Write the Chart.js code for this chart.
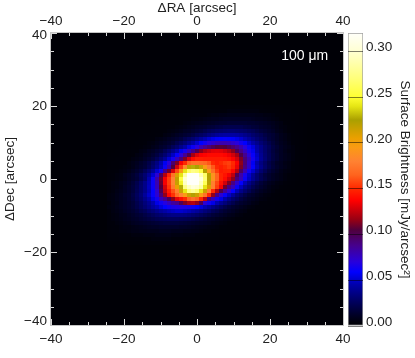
<!DOCTYPE html>
<html>
<head>
<meta charset="utf-8">
<style>
  html, body { margin: 0; background: #fff; }
  canvas { position: absolute; left: 0; top: 0; }
</style>
<script src="https://cdn.jsdelivr.net/npm/chart.js@4"></script>
</head>
<body>
<canvas id="map" width="415" height="358"></canvas>
<canvas id="bar" width="415" height="358"></canvas>
<script>
// Surface brightness, in 10^-3 mJy/arcsec^2.
// Only the patch around the source; everything else is background.
const firstCol = 14;
const firstRow = 18;
const gridCells = 73;
const brightness = [
  [0,0,0,0,0,0,0,0,0,0,0,0,0,0,0,0,0,0,1,1,1,1,1,1,1,1,1,2,2,2,2,2,3,3,3,3,3,3,3,2,2,2,2,2,1,1,1,1,1,0],
  [0,0,0,0,0,0,0,0,0,0,0,0,1,1,1,1,1,1,1,1,2,2,2,2,3,3,3,3,4,4,5,5,5,5,5,5,5,5,4,4,3,3,3,2,2,2,1,1,1,1],
  [1,1,1,1,1,1,1,1,1,1,1,1,1,1,2,2,2,2,3,3,3,3,4,4,4,5,6,6,7,7,8,8,8,8,8,8,8,7,7,6,6,5,4,4,3,3,2,2,1,1],
  [1,1,1,1,1,1,1,1,1,1,1,1,2,2,2,2,3,3,3,4,4,5,5,6,7,8,9,9,10,11,11,11,11,11,11,11,10,9,9,8,7,6,5,4,3,3,2,2,1,1],
  [1,1,1,1,1,1,1,1,1,1,1,2,2,2,3,3,3,3,4,5,6,7,8,9,10,11,12,13,14,14,15,15,15,15,15,14,14,13,12,11,10,9,7,6,4,3,3,2,1,1],
  [1,1,1,1,1,1,1,1,1,2,2,2,3,3,3,4,4,5,6,7,9,10,12,13,14,16,17,19,20,22,22,22,22,22,20,19,17,16,14,13,12,10,8,6,5,4,3,2,2,1],
  [1,1,1,1,1,1,1,1,2,2,2,3,3,3,4,5,6,7,9,11,12,14,16,18,21,24,26,28,29,30,31,31,30,29,28,26,24,21,18,16,14,12,9,7,5,4,3,2,2,1],
  [1,1,1,1,1,1,1,2,2,3,3,3,4,4,6,7,9,11,13,15,17,20,24,27,30,34,37,40,42,43,43,43,42,40,37,34,30,27,24,20,17,15,12,9,7,5,4,3,2,1],
  [1,1,1,1,1,2,2,2,3,3,4,4,6,7,9,11,13,15,18,23,27,31,36,41,46,51,55,58,59,60,59,58,55,51,46,41,36,31,27,23,18,15,12,9,7,5,4,3,2,1],
  [1,1,1,1,2,2,2,3,3,4,5,6,8,10,12,14,17,22,27,32,38,44,51,59,64,70,74,78,80,80,78,74,70,64,59,51,44,38,32,27,22,17,13,10,8,6,4,3,2,1],
  [1,1,1,2,2,2,3,3,4,5,6,8,10,13,15,19,25,30,37,44,53,62,70,80,88,94,100,105,106,105,100,94,88,80,70,62,53,44,37,30,25,19,15,11,9,7,5,3,2,2],
  [1,1,2,2,3,3,4,4,6,7,10,12,15,18,24,30,37,45,56,65,77,89,100,114,122,127,131,132,131,127,122,114,100,89,77,65,56,45,37,30,24,18,14,11,8,6,5,3,2,1],
  [1,2,2,3,3,3,4,6,7,10,12,15,19,25,31,39,49,61,72,87,102,119,130,136,138,140,140,140,140,138,134,128,119,102,87,72,61,49,39,31,25,19,15,11,9,7,5,3,2,2],
  [2,2,3,3,3,4,6,7,9,12,15,19,25,32,40,51,64,78,92,112,128,140,146,146,145,145,145,145,145,144,142,136,128,112,92,78,64,51,40,32,25,19,15,11,9,7,5,3,2,2],
  [2,3,3,4,4,6,8,10,13,16,21,28,35,45,57,70,95,112,135,150,165,172,172,170,168,162,150,146,150,154,156,150,136,115,92,75,57,45,35,28,21,16,12,10,7,6,4,3,2,1],
  [2,3,3,4,5,6,8,11,14,17,23,30,38,48,62,80,105,128,155,185,218,228,225,215,195,178,162,150,146,150,154,148,133,112,90,75,60,47,37,29,22,17,13,10,8,6,4,3,2,1],
  [3,3,4,5,6,8,11,14,18,24,31,40,51,63,90,110,130,158,195,240,265,275,270,255,222,195,170,155,145,147,148,138,122,98,80,63,51,40,31,24,18,14,11,8,6,5,4,3,2,1],
  [3,4,5,6,9,11,14,18,24,31,40,51,72,98,122,148,172,210,240,285,330,340,335,290,265,222,190,165,148,143,135,124,100,82,65,51,40,31,24,18,14,11,9,7,5,4,3,2,1,1],
  [3,4,5,6,8,11,14,17,23,30,45,62,82,110,135,155,180,218,255,300,340,340,340,305,270,222,190,165,148,140,128,115,92,78,62,49,39,31,24,19,14,11,9,7,5,4,3,2,1,1],
  [4,5,6,8,10,13,17,22,29,37,47,62,80,108,135,155,180,216,245,295,340,340,340,295,260,220,178,158,142,128,112,90,74,60,47,37,29,22,17,13,10,8,6,5,4,3,2,1,1,1],
  [4,5,6,8,11,14,18,23,30,37,48,62,78,105,128,152,175,205,228,275,295,305,300,285,240,210,178,155,135,110,90,78,62,48,37,30,23,18,14,11,8,6,5,4,3,2,2,1,1,1],
  [4,5,7,9,11,14,18,24,30,37,47,60,74,100,125,145,160,178,215,240,270,280,270,240,215,178,150,122,102,86,72,60,47,37,30,24,18,14,11,9,7,5,4,3,2,2,1,1,1,1],
  [5,6,8,10,13,15,20,26,32,41,50,61,72,92,115,138,152,168,180,195,215,222,215,195,172,150,115,90,72,61,50,41,32,26,20,15,13,10,8,6,5,4,3,2,2,1,1,1,1,1],
  [5,6,8,10,12,15,19,25,30,37,45,55,64,78,88,100,115,132,142,150,165,172,165,150,125,92,78,64,55,45,37,30,25,19,15,12,10,8,6,5,4,4,3,2,2,1,1,1,1,1],
  [4,6,7,10,12,14,17,22,27,33,39,46,55,63,69,77,84,88,100,112,120,122,115,100,72,63,55,46,39,33,27,22,17,14,12,10,7,6,4,4,3,3,2,2,1,1,1,1,1,1],
  [5,6,8,10,12,14,17,21,26,31,36,42,47,53,59,63,66,67,68,67,66,63,59,53,47,42,36,31,26,21,17,14,12,10,8,6,5,4,4,3,3,3,2,2,1,1,1,1,1,1],
  [4,6,7,9,11,13,15,18,22,25,30,33,37,41,44,47,49,51,51,49,47,44,41,37,33,30,25,22,18,15,13,11,9,7,6,4,4,3,3,3,2,2,2,1,1,1,1,1,1,1],
  [4,5,6,8,9,11,13,15,17,20,23,26,29,31,33,35,36,36,36,35,33,31,29,26,23,20,17,15,13,11,9,8,6,5,4,4,3,3,3,2,2,2,2,1,1,1,1,1,1,1],
  [4,5,6,7,9,10,12,13,15,17,19,21,23,24,25,26,26,26,25,24,23,21,19,17,15,13,12,10,9,7,6,5,4,4,3,3,3,2,2,2,2,1,1,1,1,1,1,1,1,1],
  [4,4,5,6,7,8,10,11,12,13,14,15,16,17,18,18,18,18,17,16,15,14,13,12,11,10,8,7,6,5,4,4,3,3,3,2,2,2,2,1,1,1,1,1,1,1,1,1,1,1],
  [3,4,4,5,6,6,7,8,9,10,11,12,12,13,13,13,13,13,12,12,11,10,9,8,7,6,6,5,4,4,3,3,3,2,2,2,2,2,1,1,1,1,1,1,1,1,1,1,1,1],
  [3,4,4,5,5,6,7,7,8,8,9,9,9,10,10,10,9,9,9,8,8,7,7,6,5,5,4,4,3,3,3,2,2,2,2,2,1,1,1,1,1,1,1,1,1,1,1,1,1,1],
  [3,3,3,4,4,4,5,5,5,6,6,6,7,7,7,7,6,6,6,5,5,5,4,4,4,3,3,3,2,2,2,2,2,1,1,1,1,1,1,1,1,1,1,1,1,1,1,1,1,1],
  [2,2,2,3,3,3,3,4,4,4,4,5,5,5,5,5,4,4,4,4,3,3,3,3,2,2,2,2,1,1,1,1,1,1,1,1,1,0,0,0,0,0,0,0,0,0,0,0,0,0],
  [1,1,1,1,2,2,2,2,2,3,3,3,3,3,3,3,3,3,2,2,2,2,2,2,1,1,1,1,1,1,1,0,0,0,0,0,0,0,0,0,0,0,0,0,0,0,0,0,0,0],
];

const axisTicks = [-40, -20, 0, 20, 40];
const minorTicks = [-35, -30, -25, -15, -10, -5, 5, 10, 15, 25, 30, 35];
const barMax = 0.32;
const barTicks = [0, 0.05, 0.1, 0.15, 0.2, 0.25, 0.3];

const stopValues = [0, 0.004, 0.012, 0.028, 0.045, 0.059, 0.07, 0.088, 0.105, 0.116, 0.137, 0.15, 0.165, 0.18, 0.195, 0.205, 0.225, 0.24, 0.25, 0.27, 0.3, 0.32];
const stopColors = [
  [0, 0, 6], [0, 0, 10], [0, 0, 38], [0, 0, 100], [0, 0, 170], [0, 0, 255], [40, 0, 220], [70, 0, 140],
  [80, 0, 60], [150, 0, 20], [255, 0, 0], [255, 40, 0], [255, 100, 30], [255, 130, 50],
  [250, 155, 20], [235, 160, 0], [170, 160, 0], [230, 230, 20], [255, 255, 50], [255, 255, 120],
  [255, 255, 210], [255, 255, 250],
];

const fontFamily = '"Liberation Sans", Arial, sans-serif';
const textColor = "#222";

function colorFor(value) {
  let i = 1;
  while (i < stopValues.length - 1 && value > stopValues[i]) i++;
  const t = Math.min(1, Math.max(0, (value - stopValues[i - 1]) / (stopValues[i] - stopValues[i - 1])));
  const a = stopColors[i - 1];
  const b = stopColors[i];
  return `rgb(${a.map((c, k) => Math.round(c + (b[k] - c) * t)).join(",")})`;
}

const step = 80 / gridCells;
const points = [];
brightness.forEach((row, r) => {
  row.forEach((v, c) => {
    points.push({
      x: -40 + (firstCol + c + 0.5) * step,
      y: 40 - (firstRow + r + 0.5) * step,
      v: v / 1000,
    });
  });
});

const minus = (v) => String(v).replace("-", "\u2212");

function fixedSize(prop, size) {
  return (scale) => { scale[prop] = size; };
}

// white ticks pointing inside + frame + wavelength label
const mapDecor = {
  id: "mapDecor",
  beforeDatasetsDraw(chart) {
    const { ctx, chartArea: a } = chart;
    ctx.save();
    ctx.fillStyle = colorFor(0);
    ctx.fillRect(a.left, a.top, a.width, a.height);
    ctx.restore();
  },
  afterDraw(chart) {
    const { ctx, chartArea: a, scales } = chart;
    ctx.save();
    ctx.strokeStyle = "#d8d8d8";
    ctx.lineWidth = 1;
    const tick = (v, len) => {
      const px = Math.round(scales.x.getPixelForValue(v)) + 0.5;
      const py = Math.round(scales.y.getPixelForValue(v)) + 0.5;
      ctx.beginPath();
      ctx.moveTo(px, a.top); ctx.lineTo(px, a.top + len);
      ctx.moveTo(px, a.bottom); ctx.lineTo(px, a.bottom - len);
      ctx.moveTo(a.left, py); ctx.lineTo(a.left + len, py);
      ctx.moveTo(a.right, py); ctx.lineTo(a.right - len, py);
      ctx.stroke();
    };
    axisTicks.forEach((v) => tick(v, 6));
    minorTicks.forEach((v) => tick(v, 3));
    ctx.strokeStyle = "#c4c4c4";
    ctx.strokeRect(a.left - 0.5, a.top - 0.5, a.width + 1, a.height + 1);
    ctx.fillStyle = "#fff";
    ctx.font = `14px ${fontFamily}`;
    ctx.textAlign = "center";
    ctx.textBaseline = "middle";
    ctx.fillText("100 \u03BCm", scales.x.getPixelForValue(29.5), scales.y.getPixelForValue(33.6));
    ctx.restore();
  },
  // the 40 and -40 labels on the left axis sit inside the frame
  afterUpdate(chart) {
    const items = chart.scales.y.getLabelItems(chart.chartArea);
    items.forEach((item) => {
      if (item.label === "40") item.options.translation[1] += 2;
      if (item.label === "\u221240") item.options.translation[1] -= 4;
    });
  },
};

const tickFont = { family: fontFamily, size: 13.5 };

new Chart(document.getElementById("map"), {
  type: "scatter",
  data: {
    datasets: [
      {
        data: points,
        pointStyle: "rect",
        borderWidth: 0,
        pointBorderWidth: 0,
        pointRadius: (ctx) => (ctx.chart.scales.x.width / gridCells / 2) * Math.SQRT2,
        pointBackgroundColor: (ctx) => colorFor(ctx.raw ? ctx.raw.v : 0),
      },
    ],
  },
  options: {
    responsive: false,
    animation: false,
    events: [],
    layout: { padding: 0 },
    plugins: { legend: { display: false }, tooltip: { enabled: false } },
    scales: {
      x: {
        type: "linear",
        position: "bottom",
        min: -40,
        max: 40,
        afterFit: fixedSize("height", 33),
        grid: { display: false, drawTicks: false },
        border: { display: false },
        ticks: { stepSize: 20, padding: 6, color: textColor, font: tickFont, maxRotation: 0, callback: minus },
      },
      xTop: {
        type: "linear",
        axis: "x",
        position: "top",
        min: -40,
        max: 40,
        afterFit: fixedSize("height", 33),
        grid: { display: false, drawTicks: false },
        border: { display: false },
        title: { display: true, text: "\u0394RA [arcsec]", color: textColor, font: tickFont, padding: 0 },
        ticks: { stepSize: 20, padding: 4, color: textColor, font: tickFont, maxRotation: 0, callback: minus },
      },
      y: {
        type: "linear",
        position: "left",
        min: -40,
        max: 40,
        afterFit: fixedSize("width", 51),
        grid: { display: false, drawTicks: false },
        border: { display: false },
        title: { display: true, text: "\u0394Dec [arcsec]", color: textColor, font: tickFont, padding: { top: 2, bottom: 0 } },
        ticks: { stepSize: 20, padding: 4, color: textColor, font: tickFont, callback: minus },
      },
      yRight: {
        type: "linear",
        axis: "y",
        position: "right",
        min: -40,
        max: 40,
        afterFit: fixedSize("width", 72),
        grid: { display: false, drawTicks: false },
        border: { display: false },
        ticks: { display: false },
      },
    },
  },
  plugins: [mapDecor],
});

new Chart(document.getElementById("bar"), {
  type: "bar",
  data: {
    labels: [""],
    datasets: [
      {
        data: [[0, barMax]],
        barPercentage: 1,
        categoryPercentage: 1,
        borderWidth: 1,
        borderColor: "#a0a0a0",
        borderSkipped: false,
        backgroundColor: (ctx) => {
          const { chartArea, scales } = ctx.chart;
          if (!chartArea) return colorFor(0);
          const g = ctx.chart.ctx.createLinearGradient(0, scales.y.getPixelForValue(0), 0, scales.y.getPixelForValue(barMax));
          stopValues.forEach((v) => g.addColorStop(v / barMax, colorFor(v)));
          return g;
        },
      },
    ],
  },
  options: {
    responsive: false,
    animation: false,
    events: [],
    layout: { padding: { left: 348, top: 33, bottom: 32 } },
    plugins: { legend: { display: false }, tooltip: { enabled: false } },
    scales: {
      x: { display: false },
      y: {
        position: "right",
        min: 0,
        max: barMax,
        afterFit: fixedSize("width", 52),
        afterBuildTicks: (scale) => { scale.ticks = barTicks.map((value) => ({ value })); },
        grid: { color: "rgba(0,0,0,0.5)", drawTicks: false, z: 1 },
        border: { display: false },
        title: {
          display: true,
          text: "Surface Brightness [mJy/arcsec\u00B2]",
          color: textColor,
          font: tickFont,
          padding: { top: 2, bottom: 0 },
        },
        ticks: {
          padding: 3,
          labelOffset: -4,
          color: textColor,
          font: tickFont,
          callback: (v) => v.toFixed(2),
        },
      },
    },
  },
});
</script>
</body>
</html>
